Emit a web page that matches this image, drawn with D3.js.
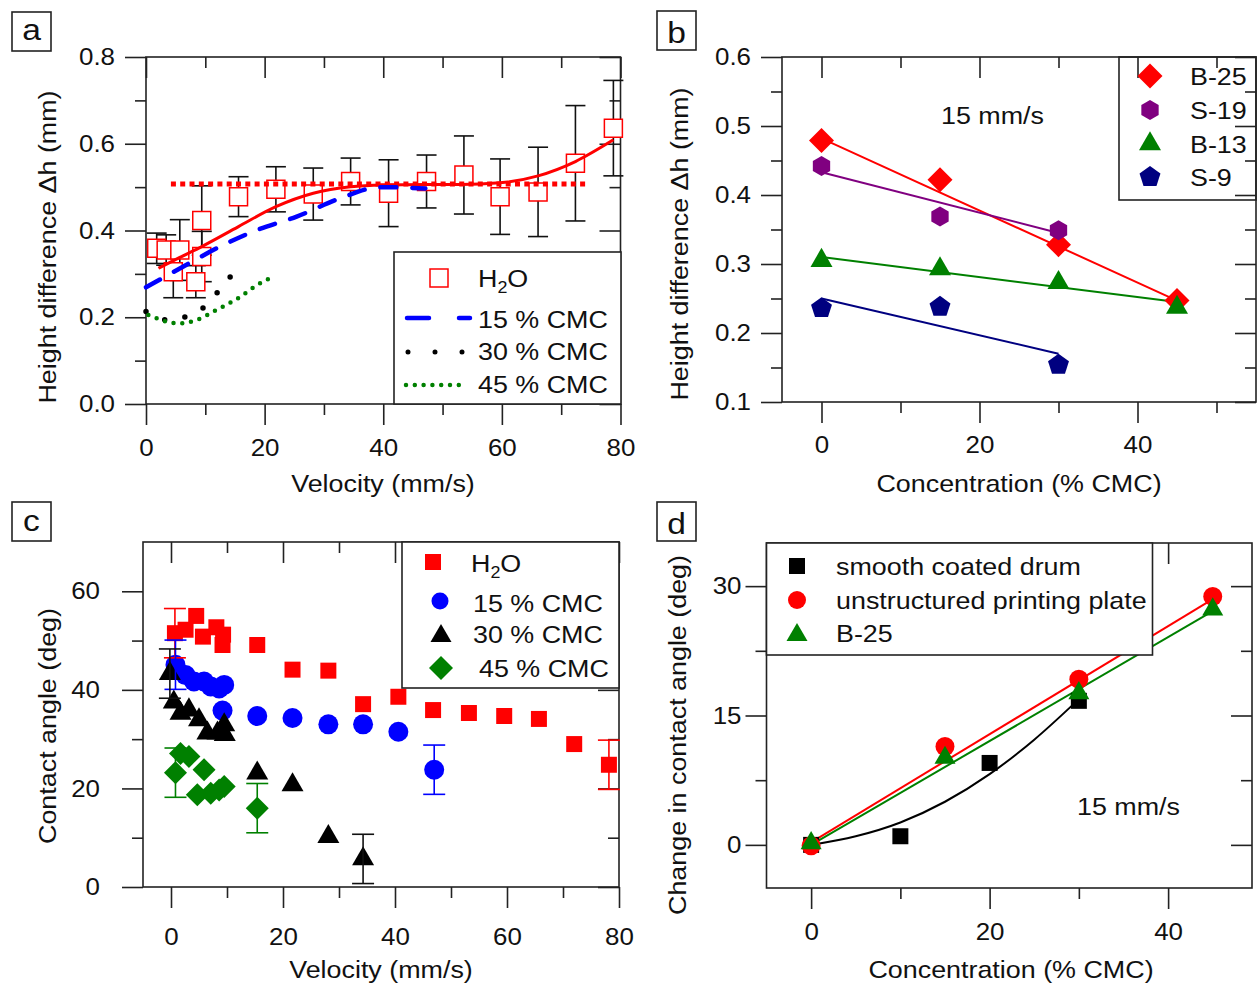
<!DOCTYPE html>
<meta charset="utf-8">
<style>

body {
  margin: 0;
  background: #fff;
}

svg {
  font-family: "Liberation Sans", Arial, sans-serif;
}

text {
  fill: #111;
}

.tick line {
  stroke: #222;
  stroke-width: 1.6;
}

.frame, .legend {
  fill: none;
  stroke: #222;
  stroke-width: 1.6;
}

</style>
<body>
<script src="https://cdn.jsdelivr.net/npm/d3@7"></script>
<script>

// ---- panel a: height difference vs velocity
var aVel = [1.8, 3.4, 4.6, 5.7, 8.4, 9.4, 9.4, 15.6, 21.9, 28.2, 34.5, 40.9, 47.3, 53.6, 59.7, 66.1, 72.4, 78.8],
    aH2O = [0.359, 0.355, 0.305, 0.355, 0.282, 0.340, 0.423, 0.478, 0.495, 0.484, 0.513, 0.486, 0.513, 0.528, 0.478, 0.489, 0.555, 0.636],
    aErr = [0.035, 0.035, 0.06, 0.07, 0.037, 0.058, 0.08, 0.046, 0.052, 0.06, 0.054, 0.077, 0.061, 0.09, 0.087, 0.103, 0.133, 0.11];

var aFitX = [2.1, 5.7, 9.4, 15.6, 21.9, 28.2, 34.5, 40, 47, 53, 59.7, 66.1, 72.4, 78.8],
    aFitY = [0.313, 0.338, 0.363, 0.409, 0.455, 0.486, 0.501, 0.505, 0.506, 0.506, 0.510, 0.526, 0.559, 0.609];
var aMeanX = [4.2, 74.4],
    aMeanY = [0.507, 0.507];
var aCmc15X = [0, 6.3, 12.5, 18.7, 25.4, 32.7, 39.5, 47.1],
    aCmc15Y = [0.269, 0.317, 0.363, 0.401, 0.432, 0.474, 0.500, 0.497];
var aCmc30X = [0, 3.5, 7.3, 10.0, 12.4, 14.2],
    aCmc30Y = [0.213, 0.194, 0.204, 0.226, 0.263, 0.293];
var aCmc45X = [0.4, 5.5, 8.6, 11.9, 15.9, 18.7, 21.4],
    aCmc45Y = [0.205, 0.186, 0.194, 0.217, 0.247, 0.274, 0.293];

// ---- panel b: height difference vs concentration at 15 mm/s
var bConc = [0, 15, 30, 45],
    bB25 = [0.479, 0.422, 0.328, 0.247],
    bS19 = [0.442, 0.369, 0.349],
    bB13 = [0.305, 0.293, 0.273, 0.237],
    bS9 = [0.236, 0.238, 0.154];
var bB25Fit = [0.482, 0.247],   // at 0 and 45
    bS19Fit = [0.433, 0.345],   // at 0 and 30
    bB13Fit = [0.310, 0.245],   // at 0 and 45
    bS9Fit = [0.250, 0.170];    // at 0 and 30

// ---- panel c: contact angle vs velocity
var cH2OVel = [0.7, 2.6, 4.5, 5.7, 8.1, 9.3, 9.2, 15.4, 21.7, 28.1, 34.3, 40.6, 46.8, 53.2, 59.5, 65.7, 72.0, 78.2],
    cH2O = [51.5, 52.2, 55.0, 50.8, 52.7, 51.2, 49.1, 49.1, 44.1, 43.9, 37.1, 38.6, 35.9, 35.3, 34.7, 34.1, 29.0, 24.8],
    cH2OErr = [5, 0, 0, 0, 0, 0, 0, 0, 0, 0, 0, 0, 0, 0, 0, 0, 0, 5];
var c15Vel = [0.8, 2.6, 4.1, 5.9, 7.1, 8.6, 9.5, 9.2, 15.4, 21.7, 28.1, 34.3, 40.6, 47.0],
    c15 = [45.1, 43.0, 41.7, 41.7, 40.7, 40.3, 41.0, 35.8, 34.7, 34.3, 33.0, 33.0, 31.5, 23.8],
    c15Err = [5, 0, 0, 0, 0, 0, 0, 0, 0, 0, 0, 0, 0, 5];
var c30Vel = [-0.2, 0.5, 1.7, 3.2, 5.0, 6.5, 8.3, 9.5, 9.6, 15.4, 21.7, 28.1, 34.3],
    c30 = [43.3, 37.5, 35.2, 35.9, 33.9, 31.2, 31.2, 32.9, 30.9, 23.1, 20.7, 10.2, 5.7],
    c30Err = [5, 0, 0, 0, 0, 0, 0, 0, 0, 0, 0, 0, 5];
var c45Vel = [0.8, 1.7, 3.2, 4.7, 5.9, 7.1, 8.6, 9.5, 15.4],
    c45 = [23.2, 27.1, 26.5, 18.7, 23.8, 19.0, 19.7, 20.4, 16.0],
    c45Err = [5, 0, 0, 0, 0, 0, 0, 0, 5];

// ---- panel d: change in contact angle vs concentration
var dDrumConc = [0, 10, 20, 30],
    dDrum = [0, 1.0, 9.5, 16.7],
    dConc = [0, 15, 30, 45],
    dPlate = [-0.1, 11.4, 19.2, 28.8],
    dB25 = [0.2, 10.1, 17.6, 27.3];
var dDrumFitX = [0, 5, 10, 15, 20, 25, 30],
    dDrumFitY = [0, 1.0, 2.6, 5.0, 8.2, 12.2, 16.9],
    dFitX = [0, 45],
    dPlateFit = [0.3, 28.5],
    dB25Fit = [0, 27.1];

var width = 1257,
    height = 985,
    sx = 1.12;

var svg = d3.select("body").append("svg")
    .attr("width", width)
    .attr("height", height);

function txt(g, x, y, s, o) {
  o = o || {};
  return g.append("text")
      .attr("transform", "translate(" + x + "," + y + ") rotate(" + (o.rot || 0) + ") scale(" + sx + ",1)")
      .attr("text-anchor", o.anchor || "start")
      .attr("font-size", o.size || 24)
      .text(s);
}

function h2o(g, x, y) {
  var t = g.append("text")
      .attr("transform", "translate(" + x + "," + y + ") scale(" + sx + ",1)")
      .attr("font-size", 24);
  t.append("tspan").text("H");
  t.append("tspan").attr("font-size", 16).attr("dy", 6).text("2");
  t.append("tspan").attr("dy", -6).text("O");
}

// regular polygon centred on 0,0, first vertex straight up
function poly(n, r, rot) {
  var p = d3.path();
  for (var i = 0; i < n; i++) {
    var a = (rot || 0) + i * 2 * Math.PI / n;
    if (i) p.lineTo(r * Math.sin(a), -r * Math.cos(a));
    else p.moveTo(r * Math.sin(a), -r * Math.cos(a));
  }
  p.closePath();
  return p.toString();
}

var shape = {
  square: function(s) { return poly(4, s / Math.SQRT2, Math.PI / 4); },
  diamond: function(s) { return poly(4, s / 2); },
  triangle: function(s) { return poly(3, s / Math.sqrt(3)); },
  hexagon: function(s) { return poly(6, s / 2); },
  pentagon: function(s) { return poly(5, s / 2); },
  circle: function(s) { return d3.symbol(d3.symbolCircle, Math.PI * s * s / 4)(); }
};

function panelLabel(x, y, s, base) {
  svg.append("rect").attr("class", "legend")
      .attr("x", x).attr("y", y).attr("width", 39).attr("height", 39);
  txt(svg, x + 19.5, y + base, s, {anchor: "middle", size: 30});
}

function axes(x, y, o) {
  var g = svg.append("g"),
      x0 = x.range()[0], x1 = x.range()[1],
      y0 = y.range()[0], y1 = y.range()[1];

  g.append("g").attr("transform", "translate(0," + y0 + ")")
      .call(d3.axisBottom(x).tickValues(o.xMaj).tickSize(21).tickSizeOuter(0).tickPadding(o.padX).tickFormat(o.xFmt));
  g.append("g").attr("transform", "translate(0," + y0 + ")")
      .call(d3.axisBottom(x).tickValues(o.xMin).tickSize(11).tickSizeOuter(0).tickFormat(""));
  g.append("g").attr("transform", "translate(0," + y1 + ")")
      .call(d3.axisTop(x).tickValues(o.xMaj).tickSize(-21).tickSizeOuter(0).tickFormat(""));
  g.append("g").attr("transform", "translate(0," + y1 + ")")
      .call(d3.axisTop(x).tickValues(o.xMin).tickSize(-11).tickSizeOuter(0).tickFormat(""));
  g.append("g").attr("transform", "translate(" + x0 + ",0)")
      .call(d3.axisLeft(y).tickValues(o.yMaj).tickSize(21).tickSizeOuter(0).tickPadding(o.padY).tickFormat(o.yFmt));
  g.append("g").attr("transform", "translate(" + x0 + ",0)")
      .call(d3.axisLeft(y).tickValues(o.yMin).tickSize(11).tickSizeOuter(0).tickFormat(""));
  g.append("g").attr("transform", "translate(" + x1 + ",0)")
      .call(d3.axisRight(y).tickValues(o.yMaj).tickSize(-21).tickSizeOuter(0).tickFormat(""));
  g.append("g").attr("transform", "translate(" + x1 + ",0)")
      .call(d3.axisRight(y).tickValues(o.yMin).tickSize(-11).tickSizeOuter(0).tickFormat(""));

  g.selectAll(".domain").remove();
  g.selectAll(".tick text")
      .attr("font-size", 24)
      .attr("font-family", null)
      .style("fill", "#111")
      .each(function() {
        var t = d3.select(this), tx = +t.attr("x") || 0;
        t.attr("x", 0).attr("transform", "translate(" + tx + ",0) scale(1.08,1)");
      });

  g.append("rect").attr("class", "frame")
      .attr("x", x0).attr("y", y1)
      .attr("width", x1 - x0).attr("height", y0 - y1);
  return g;
}

function errorBars(g, x, y, xs, ys, es, cap, color) {
  var d = xs.map(function(v, i) { return i; }).filter(function(i) { return es[i] > 0; });
  var eb = g.append("g").attr("stroke", color).attr("stroke-width", 1.6).attr("fill", "none")
    .selectAll("g").data(d).enter().append("g");
  eb.append("line")
      .attr("x1", function(i) { return x(xs[i]); }).attr("x2", function(i) { return x(xs[i]); })
      .attr("y1", function(i) { return y(ys[i] - es[i]); }).attr("y2", function(i) { return y(ys[i] + es[i]); });
  [-1, 1].forEach(function(s) {
    eb.append("line")
        .attr("x1", function(i) { return x(xs[i]) - cap / 2; }).attr("x2", function(i) { return x(xs[i]) + cap / 2; })
        .attr("y1", function(i) { return y(ys[i] + s * es[i]); }).attr("y2", function(i) { return y(ys[i] + s * es[i]); });
  });
}

function markers(g, x, y, xs, ys, path, fill, stroke) {
  g.append("g").selectAll("path")
      .data(ys)
    .enter().append("path")
      .attr("d", path)
      .attr("transform", function(d, i) { return "translate(" + x(xs[i]) + "," + y(d) + ")"; })
      .attr("fill", fill)
      .attr("stroke", stroke || "none")
      .attr("stroke-width", 1.5);
}

function curve(g, x, y, xs, ys, color, w, dash, cap, interp) {
  var line = d3.line()
      .x(function(d, i) { return x(xs[i]); })
      .y(function(d) { return y(d); })
      .curve(interp || d3.curveLinear);
  return g.append("path")
      .attr("d", line(ys))
      .attr("fill", "none")
      .attr("stroke", color)
      .attr("stroke-width", w)
      .attr("stroke-dasharray", dash || null)
      .attr("stroke-linecap", cap || "butt");
}

var red = "#ff0000", blue = "#0000ff", green = "#008000", purple = "#800080", navy = "#000080";

// ================= panel a
var xa = d3.scaleLinear().domain([0, 80]).range([146, 620.5]),
    ya = d3.scaleLinear().domain([0, 0.8]).range([404, 57]);

var ga = axes(xa, ya, {
  xMaj: [0, 20, 40, 60, 80], xMin: [10, 30, 50, 70], padX: 14, xFmt: d3.format("d"),
  yMaj: [0, 0.2, 0.4, 0.6, 0.8], yMin: [0.1, 0.3, 0.5, 0.7], padY: 10, yFmt: d3.format(".1f")
});

errorBars(ga, xa, ya, aVel, aH2O, aErr, 20, "#111");
markers(ga, xa, ya, aVel, aH2O, shape.square(18), "#fff", red);
curve(ga, xa, ya, aMeanX, aMeanY, red, 5, "5,4.3");
curve(ga, xa, ya, aFitX, aFitY, red, 3, null, "butt", d3.curveMonotoneX);
curve(ga, xa, ya, aCmc15X, aCmc15Y, blue, 4.5, "16,16", "round", d3.curveMonotoneX);
curve(ga, xa, ya, aCmc30X, aCmc30Y, "#000", 5.5, "0,20.5", "round", d3.curveMonotoneX);
curve(ga, xa, ya, aCmc45X, aCmc45Y, green, 4.5, "0,8.8", "round", d3.curveMonotoneX);

// legend a
svg.append("rect").attr("class", "legend").attr("x", 394).attr("y", 252).attr("width", 227).attr("height", 152)
    .attr("fill", "#fff").style("fill", "#fff");
svg.append("path").attr("d", shape.square(18)).attr("transform", "translate(439,278)")
    .attr("fill", "#fff").attr("stroke", red).attr("stroke-width", 1.5);
h2o(svg, 478, 287);
svg.append("line").attr("x1", 407).attr("x2", 470).attr("y1", 318).attr("y2", 318)
    .attr("stroke", blue).attr("stroke-width", 4.5).attr("stroke-dasharray", "22,30").attr("stroke-linecap", "round");
txt(svg, 478, 328, "15 % CMC");
svg.append("line").attr("x1", 408).attr("x2", 463).attr("y1", 352).attr("y2", 352)
    .attr("stroke", "#000").attr("stroke-width", 5).attr("stroke-dasharray", "0,27").attr("stroke-linecap", "round");
txt(svg, 478, 360, "30 % CMC");
svg.append("line").attr("x1", 406).attr("x2", 463).attr("y1", 385).attr("y2", 385)
    .attr("stroke", green).attr("stroke-width", 4.5).attr("stroke-dasharray", "0,8.8").attr("stroke-linecap", "round");
txt(svg, 478, 393, "45 % CMC");

txt(svg, 383, 492, "Velocity (mm/s)", {anchor: "middle"});
txt(svg, 56, 247, "Height difference \u0394h (mm)", {anchor: "middle", rot: -90});
panelLabel(12, 12, "a", 28);

// ================= panel b
var xb = d3.scaleLinear().domain([-5, 55]).range([782, 1256]),
    yb = d3.scaleLinear().domain([0.1, 0.6]).range([402, 57]);

var gb = axes(xb, yb, {
  xMaj: [0, 20, 40], xMin: [10, 30, 50], padX: 13, xFmt: d3.format("d"),
  yMaj: [0.1, 0.2, 0.3, 0.4, 0.5, 0.6], yMin: [0.15, 0.25, 0.35, 0.45, 0.55], padY: 10, yFmt: d3.format(".1f")
});

curve(gb, xb, yb, [0, 45], bB25Fit, red, 2);
curve(gb, xb, yb, [0, 30], bS19Fit, purple, 2);
curve(gb, xb, yb, [0, 45], bB13Fit, green, 2);
curve(gb, xb, yb, [0, 30], bS9Fit, navy, 2);
markers(gb, xb, yb, bConc, bB25, shape.diamond(25), red);
markers(gb, xb, yb, bConc, bS19, shape.hexagon(20), purple);
markers(gb, xb, yb, bConc, bB13, shape.triangle(22), green);
markers(gb, xb, yb, bConc, bS9, shape.pentagon(22), navy);

svg.append("rect").attr("class", "legend").attr("x", 1119).attr("y", 57).attr("width", 137).attr("height", 143);
[[shape.diamond(25), red, "B-25", 76], [shape.hexagon(20), purple, "S-19", 110],
 [shape.triangle(22), green, "B-13", 144], [shape.pentagon(22), navy, "S-9", 177]].forEach(function(e) {
  svg.append("path").attr("d", e[0]).attr("transform", "translate(1150," + e[3] + ")").attr("fill", e[1]);
  txt(svg, 1190, e[3] + 9, e[2]);
});

txt(svg, 941, 124, "15 mm/s");
txt(svg, 1019, 492, "Concentration (% CMC)", {anchor: "middle"});
txt(svg, 688, 244, "Height difference \u0394h (mm)", {anchor: "middle", rot: -90});
panelLabel(657, 11, "b", 32);

// ================= panel c
var xc = d3.scaleLinear().domain([-5, 80]).range([143, 619]),
    yc = d3.scaleLinear().domain([0, 70]).range([887, 542]);

var gc = axes(xc, yc, {
  xMaj: [0, 20, 40, 60, 80], xMin: [10, 30, 50, 70], padX: 20, xFmt: d3.format("d"),
  yMaj: [0, 20, 40, 60], yMin: [10, 30, 50], padY: 22, yFmt: d3.format("d")
});

markers(gc, xc, yc, c15Vel, c15, shape.circle(20), blue);
markers(gc, xc, yc, cH2OVel, cH2O, shape.square(16), red);
markers(gc, xc, yc, c30Vel, c30, shape.triangle(22), "#000");
markers(gc, xc, yc, c45Vel, c45, shape.diamond(23), green);
errorBars(gc, xc, yc, cH2OVel, cH2O, cH2OErr, 22, red);
errorBars(gc, xc, yc, c15Vel, c15, c15Err, 22, blue);
errorBars(gc, xc, yc, c30Vel, c30, c30Err, 22, "#111");
errorBars(gc, xc, yc, c45Vel, c45, c45Err, 22, green);

svg.append("rect").attr("class", "legend").attr("x", 402).attr("y", 542).attr("width", 217).attr("height", 146)
    .style("fill", "#fff");
svg.append("path").attr("d", shape.square(16)).attr("transform", "translate(433,562)").attr("fill", red);
h2o(svg, 471, 572);
svg.append("path").attr("d", shape.circle(17)).attr("transform", "translate(440,601)").attr("fill", blue);
txt(svg, 473, 612, "15 % CMC");
svg.append("path").attr("d", shape.triangle(21)).attr("transform", "translate(441,636)").attr("fill", "#000");
txt(svg, 473, 643, "30 % CMC");
svg.append("path").attr("d", shape.diamond(24)).attr("transform", "translate(441,668)").attr("fill", green);
txt(svg, 479, 677, "45 % CMC");

txt(svg, 381, 978, "Velocity (mm/s)", {anchor: "middle"});
txt(svg, 56, 726, "Contact angle (deg)", {anchor: "middle", rot: -90});
panelLabel(12, 502, "c", 29);

// ================= panel d
var xd = d3.scaleLinear().domain([-5, 49.4]).range([766.5, 1252]),
    yd = d3.scaleLinear().domain([-5, 35]).range([888, 543]);

var gd = axes(xd, yd, {
  xMaj: [0, 20, 40], xMin: [10, 30], padX: 14, xFmt: d3.format("d"),
  yMaj: [0, 15, 30], yMin: [7.5, 22.5], padY: 4, yFmt: d3.format("d")
});

curve(gd, xd, yd, dDrumFitX, dDrumFitY, "#000", 2, null, "butt", d3.curveMonotoneX);
curve(gd, xd, yd, dFitX, dPlateFit, red, 2);
curve(gd, xd, yd, dFitX, dB25Fit, green, 2);
markers(gd, xd, yd, dDrumConc, dDrum, shape.square(16), "#000");
markers(gd, xd, yd, dConc, dPlate, shape.circle(19), red);
markers(gd, xd, yd, dConc, dB25, shape.triangle(21), green);

svg.append("rect").attr("class", "legend").attr("x", 766.5).attr("y", 543).attr("width", 386).attr("height", 112)
    .style("fill", "#fff");
svg.append("path").attr("d", shape.square(16)).attr("transform", "translate(797,566)").attr("fill", "#000");
txt(svg, 836, 575, "smooth coated drum");
svg.append("path").attr("d", shape.circle(18)).attr("transform", "translate(797,600)").attr("fill", red);
txt(svg, 836, 609, "unstructured printing plate");
svg.append("path").attr("d", shape.triangle(21)).attr("transform", "translate(797,635)").attr("fill", green);
txt(svg, 836, 642, "B-25");

txt(svg, 1077, 815, "15 mm/s");
txt(svg, 1011, 978, "Concentration (% CMC)", {anchor: "middle"});
txt(svg, 686, 735, "Change in contact angle (deg)", {anchor: "middle", rot: -90});
panelLabel(657, 502, "d", 32);

</script>
